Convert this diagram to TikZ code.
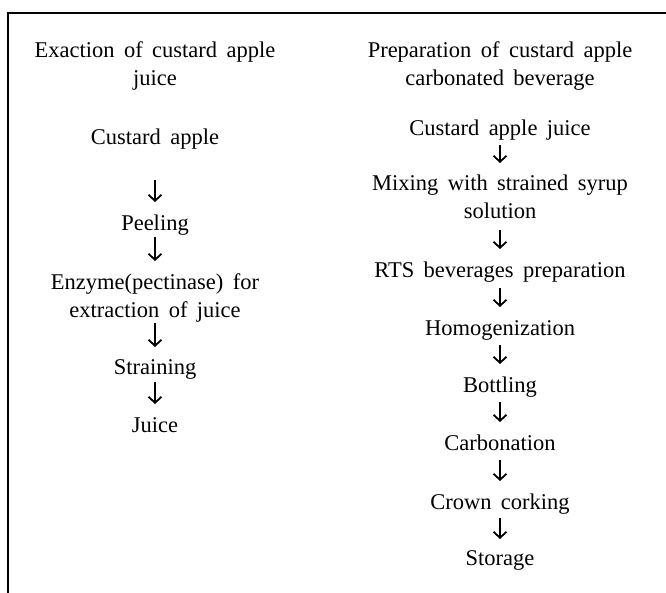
\documentclass[tikz,border=0pt]{standalone}
\usepackage{fontspec}
\setmainfont{Liberation Serif}
\usetikzlibrary{arrows.meta}
\newcommand\lnstrut{\vrule width 0pt height 16pt depth 6pt\relax}
\newcommand\stepfont{\fontsize{22.5}{28}\selectfont\spaceskip=0.42em plus 0.1em\relax}
\begin{document}
\begin{tikzpicture}[x=1pt,y=-1pt,
  txt/.style={anchor=north,inner sep=0pt,outer sep=0pt,align=center,font=\stepfont},
  arr/.style={line width=1.8pt,-{Straight Barb[length=6pt,width=13pt]},
    shorten <=3pt,shorten >=12pt}]
\useasboundingbox (0,0) rectangle (666,592);
\draw[line width=2.3pt,line join=miter] (7.7,600) -- (7.7,12.8) -- (672,12.8);
% left column
\node[txt] (hl) at (155,41) {\lnstrut Exaction of custard apple\\ \lnstrut juice};
\node[txt] (l1) at (155,128) {\lnstrut Custard apple};
\node[txt] (l2) at (155,214) {\lnstrut Peeling};
\node[txt] (l3) at (155,273) {\lnstrut Enzyme(pectinase) for\\ \lnstrut extraction of juice};
\node[txt] (l4) at (155,358) {\lnstrut Straining};
\node[txt] (l5) at (155,416) {\lnstrut Juice};
% right column
\node[txt] (hr) at (500,41) {\lnstrut Preparation of custard apple\\ \lnstrut carbonated beverage};
\node[txt] (r1) at (500,119) {\lnstrut Custard apple juice};
\node[txt] (r2) at (500,174) {\lnstrut Mixing with strained syrup\\ \lnstrut solution};
\node[txt] (r3) at (500,261) {\lnstrut RTS beverages preparation};
\node[txt] (r4) at (500,319) {\lnstrut Homogenization};
\node[txt] (r5) at (500,376) {\lnstrut Bottling};
\node[txt] (r6) at (500,434) {\lnstrut Carbonation};
\node[txt] (r7) at (500,493) {\lnstrut Crown corking};
\node[txt] (r8) at (500,549) {\lnstrut Storage};
% arrows
\draw[arr,shorten <=30pt] (l1) -- (l2);
\draw[arr,shorten <=1pt] (l2) -- (l3);
\draw[arr,shorten <=0pt,shorten >=11pt] (l3) -- (l4);
\draw[arr,shorten <=2pt] (l4) -- (l5);
\draw[arr,shorten <=4pt,shorten >=11pt] (r1) -- (r2);
\draw[arr,shorten <=6pt] (r2) -- (r3);
\draw[arr,shorten <=5pt] (r3) -- (r4);
\draw[arr,shorten <=4pt] (r4) -- (r5);
\draw[arr,shorten <=4pt] (r5) -- (r6);
\draw[arr,shorten <=4pt] (r6) -- (r7);
\draw[arr,shorten <=3pt,shorten >=10pt] (r7) -- (r8);
\end{tikzpicture}
\end{document}
